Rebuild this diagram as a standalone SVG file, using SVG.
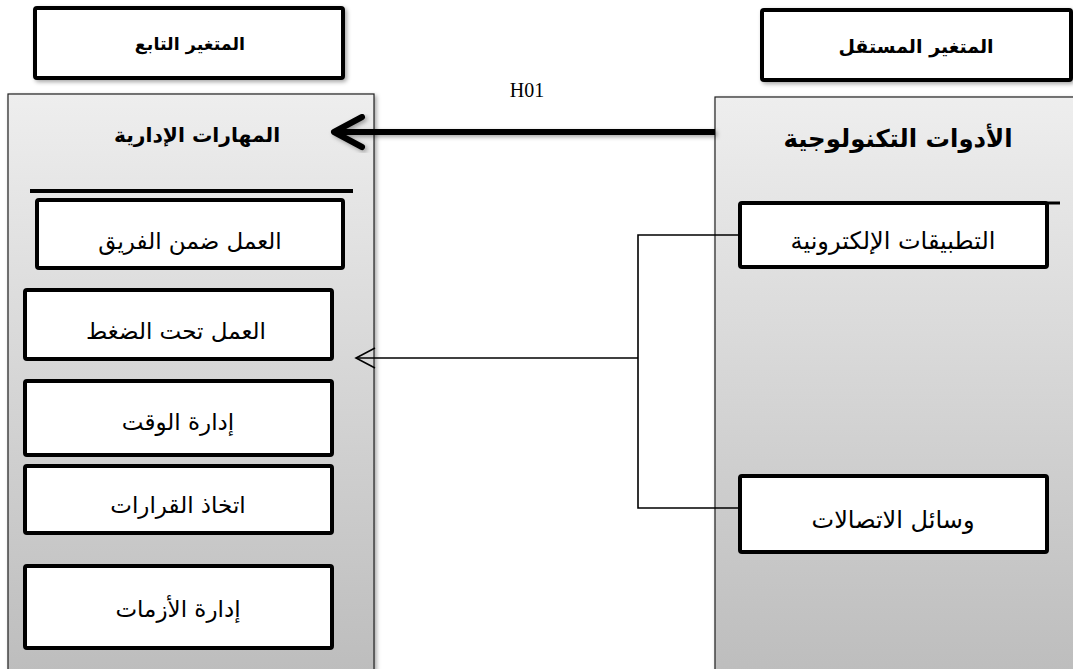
<svg xmlns="http://www.w3.org/2000/svg" width="1073" height="669" viewBox="0 0 1073 669">
<defs>
<linearGradient id="pg" x1="0" y1="0" x2="0" y2="1">
<stop offset="0" stop-color="#eeeeee"/>
<stop offset="1" stop-color="#bcbcbc"/>
</linearGradient>
<filter id="sh" x="-10%" y="-10%" width="130%" height="130%">
<feDropShadow dx="2" dy="2" stdDeviation="2" flood-color="#000" flood-opacity="0.35"/>
</filter>
</defs>
<style>
.hdr{fill:#fff;stroke:#000;stroke-width:4}
.panel{fill:url(#pg);stroke:#222;stroke-width:1.2}
.box{fill:#fff;stroke:#000;stroke-width:4}
.t{font-family:"DejaVu Sans","Noto Sans",sans-serif;text-anchor:middle;fill:#000}
.b{font-weight:bold}
.bt{font-size:23px}
.thin{fill:none;stroke:#000;stroke-width:1.6}
</style>
<rect width="1073" height="669" fill="#fff"/>

<g id="hdr-dependent">
<rect class="hdr" x="35" y="8" width="308" height="70" rx="2" filter="url(#sh)"/>
<text class="t b" x="190" y="50" font-size="17.5" direction="rtl">المتغير التابع</text>
</g>
<g id="hdr-independent">
<rect class="hdr" x="762" y="10" width="309" height="70" rx="2" filter="url(#sh)"/>
<text class="t b" x="916" y="53" font-size="19" direction="rtl">المتغير المستقل</text>
</g>

<g id="panel-dependent">
<rect class="panel" x="8" y="94" width="366" height="590" filter="url(#sh)"/>
<text class="t b" x="197" y="142" font-size="20.3" direction="rtl">المهارات الإدارية</text>
<line x1="30" y1="191" x2="353" y2="191" stroke="#000" stroke-width="4"/>
</g>
<g id="panel-independent">
<rect class="panel" x="715" y="97" width="370" height="590" filter="url(#sh)"/>
<text class="t b" x="898" y="147" font-size="24.4" direction="rtl">الأدوات التكنولوجية</text>
<line x1="1045" y1="203" x2="1060" y2="203" stroke="#000" stroke-width="3"/>
</g>

<g id="n-team">
<rect class="box" x="37" y="200" width="306" height="68" rx="2"/>
<text class="t bt" x="190" y="249" direction="rtl">العمل ضمن الفريق</text>
</g>
<g id="n-pressure">
<rect class="box" x="25" y="290" width="307" height="69" rx="2"/>
<text class="t bt" x="176" y="339" direction="rtl">العمل تحت الضغط</text>
</g>
<g id="n-time">
<rect class="box" x="25" y="381" width="307" height="74" rx="2"/>
<text class="t bt" x="178" y="430" direction="rtl">إدارة الوقت</text>
</g>
<g id="n-decisions">
<rect class="box" x="25" y="466" width="307" height="67" rx="2"/>
<text class="t bt" x="178" y="513" direction="rtl">اتخاذ القرارات</text>
</g>
<g id="n-crisis">
<rect class="box" x="25" y="566" width="307" height="82" rx="2"/>
<text class="t bt" x="178" y="617" direction="rtl">إدارة الأزمات</text>
</g>

<g id="n-apps">
<rect class="box" x="740" y="203" width="307" height="64" rx="2"/>
<text class="t" x="893" y="249" font-size="24" direction="rtl">التطبيقات الإلكترونية</text>
</g>
<g id="n-comm">
<rect class="box" x="740" y="476" width="307" height="76" rx="2"/>
<text class="t" x="893" y="528" font-size="24" direction="rtl">وسائل الاتصالات</text>
</g>

<g id="connectors">
<g filter="url(#sh)">
<line x1="715" y1="132" x2="337" y2="132" stroke="#000" stroke-width="6"/>
<path d="M362,117 L334,132 L362,147" fill="none" stroke="#000" stroke-width="6" stroke-linecap="round" stroke-linejoin="round"/>
</g>
<text x="527" y="97" font-family="Liberation Serif, serif" font-size="20" text-anchor="middle">H01</text>
<path class="thin" d="M740,235 H638 V508 H740"/>
<line class="thin" x1="638" y1="358" x2="357" y2="358"/>
<path class="thin" d="M375,348 L356,358 L375,368" stroke-width="2"/>
</g>
</svg>
